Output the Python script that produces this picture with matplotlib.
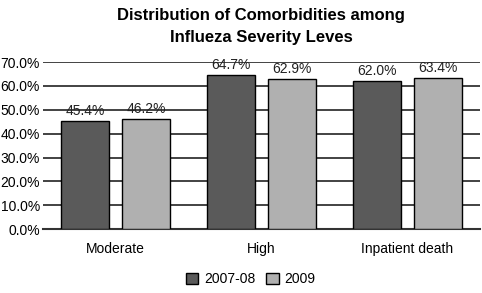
import numpy as np
import matplotlib
matplotlib.use("Agg")
import matplotlib.pyplot as plt

plt.rcParams["font.family"] = ["Liberation Sans", "DejaVu Sans"]

categories = ["Moderate", "High", "Inpatient death"]
vals_0708 = [45.4, 64.7, 62.0]
vals_2009 = [46.2, 62.9, 63.4]
series_names = ["2007-08", "2009"]

fig = plt.figure(figsize=(4.82, 2.93), dpi=100)
ax = fig.add_axes([0.089, 0.218, 0.907, 0.570])

x = np.arange(len(categories))
w = 0.33
off = 0.21
b1 = ax.bar(x - off, vals_0708, w, color="#5a5a5a", edgecolor="black", linewidth=1, label=series_names[0], zorder=3)
b2 = ax.bar(x + off, vals_2009, w, color="#b0b0b0", edgecolor="black", linewidth=1, label=series_names[1], zorder=3)

for bars, vals in ((b1, vals_0708), (b2, vals_2009)):
    for r, v in zip(bars, vals):
        ax.text(r.get_x() + r.get_width() / 2, v + 1.2, f"{v:.1f}%", ha="center", va="bottom", fontsize=10, color="#222222")

ax.set_xlim(-0.5, 2.5)
ax.set_ylim(0, 70)
ax.set_yticks(np.arange(0, 71, 10))
ax.set_yticklabels([f"{t:.1f}%" for t in np.arange(0, 71, 10)], fontsize=10)
ax.set_xticks(x)
ax.set_xticklabels(categories, fontsize=10)
ax.tick_params(axis="x", length=0, pad=9)
ax.tick_params(axis="y", length=0, pad=2)
ax.yaxis.grid(True, color="#222222", linewidth=1.2, zorder=0)
ax.set_axisbelow(True)
for s in ("top", "right", "left"):
    ax.spines[s].set_visible(False)
ax.spines["bottom"].set_color("#333333")
ax.spines["bottom"].set_linewidth(1.5)

fig.suptitle("Distribution of Comorbidities among\nInflueza Severity Leves", fontsize=12, fontweight="bold",
             y=0.972, x=0.542, linespacing=1.6)

fig.legend(handles=[b1, b2], loc="lower center", bbox_to_anchor=(0.52, -0.02), ncol=2, frameon=False,
           fontsize=10, handlelength=0.9, handleheight=0.9, columnspacing=0.8, handletextpad=0.4)

fig.savefig("out.png", dpi=100)
